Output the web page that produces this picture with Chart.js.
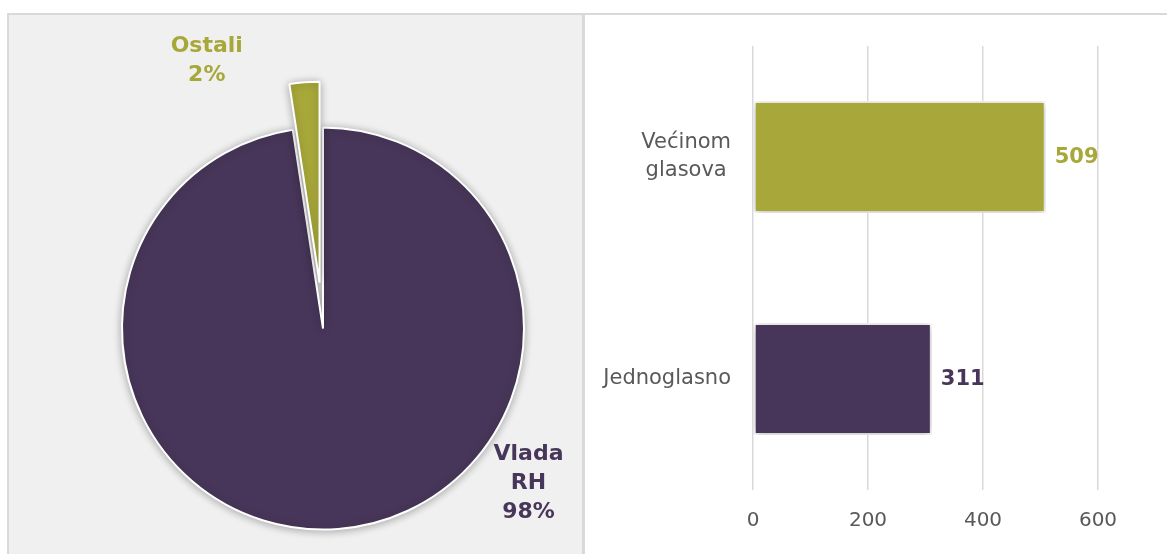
<!DOCTYPE html>
<html>
<head>
<meta charset="utf-8">
<script src="https://cdn.jsdelivr.net/npm/chart.js@4"></script>
<style>
  html, body { margin: 0; padding: 0; background: #fff; width: 1167px; height: 554px; overflow: hidden; position: relative; }
  #left { position: absolute; left: 7px; top: 13px; width: 573px; height: 560px; background: #f0f0f0;
          border-left: 2px solid #d9d9d9; border-top: 2px solid #d9d9d9; border-right: 3px solid #d9d9d9; }
  #right { position: absolute; left: 585px; top: 13px; width: 600px; height: 560px; border-top: 2px solid #d9d9d9; }
  canvas { position: absolute; }
  #pie { left: 9px; top: 15px; }
  #bar { left: 585px; top: 15px; }
</style>
</head>
<body>
<div id="left"></div>
<div id="right"></div>
<canvas id="pie" width="573" height="539"></canvas>
<canvas id="bar" width="582" height="539"></canvas>
<script>
// pie: who proposed (shares in %)
const pieLabels = ['Vlada RH', 'Ostali'];
const pieValues = [97.6, 2.4];

// bars: how it was voted
const barCategories = [['Većinom', 'glasova'], 'Jednoglasno'];
const barValues = [509, 311];
const xTicks = [0, 200, 400, 600];

const purple = '#473659';
const green = '#a8a83a';
const grey = '#595959';
const font = '"DejaVu Sans", sans-serif';

const shadow = {
    id: 'shadow',
    beforeDatasetsDraw(chart) {
        const c = chart.ctx;
        c.save();
        c.shadowColor = 'rgba(0,0,0,0.3)';
        c.shadowBlur = 8;
        c.shadowOffsetX = 0;
        c.shadowOffsetY = 1;
    },
    afterDatasetsDraw(chart) {
        chart.ctx.restore();
    }
};

// pulled-out slices (pixels along the slice's middle)
const explode = [0, 46];

const explodePie = {
    id: 'explodePie',
    beforeDatasetDraw(chart, args) {
        const c = chart.ctx;
        args.meta.data.forEach((arc, i) => {
            const mid = (arc.startAngle + arc.endAngle) / 2;
            c.save();
            c.translate(Math.cos(mid) * explode[i], Math.sin(mid) * explode[i]);
            arc.draw(c, chart.chartArea);
            c.restore();
        });
        return false;
    }
};

// label spots round the pie: angle from top (clockwise, deg) and distance in radii
const pieLabelSpots = [[127, 1.28], [-23.5, 1.45]];

const pieText = {
    id: 'pieText',
    afterDraw(chart) {
        const c = chart.ctx;
        const arcs = chart.getDatasetMeta(0).data;
        const total = pieValues.reduce((a, b) => a + b, 0);
        c.save();
        c.font = 'bold 22px ' + font;
        c.textAlign = 'center';
        c.textBaseline = 'middle';
        arcs.forEach((arc, i) => {
            const lines = pieLabels[i].split(' ').concat(Math.round(pieValues[i] / total * 100) + '%');
            const a = pieLabelSpots[i][0] * Math.PI / 180;
            const d = pieLabelSpots[i][1] * arc.outerRadius;
            const x = arc.x + Math.sin(a) * d;
            const y = arc.y - Math.cos(a) * d;
            const lh = 29;
            c.fillStyle = arc.options.backgroundColor;
            lines.forEach((t, j) => {
                c.fillText(t, x, y + (j - (lines.length - 1) / 2) * lh);
            });
        });
        c.restore();
    }
};

new Chart(document.getElementById('pie'), {
    type: 'pie',
    data: {
        labels: pieLabels,
        datasets: [{
            data: pieValues,
            backgroundColor: [purple, green],
            borderColor: '#ffffff',
            borderWidth: 2,
            radius: 201
        }]
    },
    options: {
        responsive: false,
        animation: false,
        layout: { padding: { left: 55, top: 88, right: 0, bottom: 0 } },
        plugins: { legend: { display: false }, tooltip: { enabled: false } }
    },
    plugins: [shadow, explodePie, pieText]
});

const barText = {
    id: 'barText',
    afterDraw(chart) {
        const c = chart.ctx;
        const bars = chart.getDatasetMeta(0).data;
        c.save();
        c.font = 'bold 21px ' + font;
        c.textAlign = 'left';
        c.textBaseline = 'middle';
        bars.forEach((bar, i) => {
            c.fillStyle = bar.options.backgroundColor;
            c.fillText(String(barValues[i]), bar.x + 9, bar.y + 1);
        });
        // category labels, each line centred in a block that sits right against the axis
        const ys = chart.scales.y;
        c.font = '21px ' + font;
        c.fillStyle = grey;
        c.textAlign = 'center';
        barCategories.forEach((cat, i) => {
            const lines = Array.isArray(cat) ? cat : [cat];
            const w = Math.max(...lines.map(t => c.measureText(t).width));
            const cx = chart.chartArea.left - 22 - w / 2;
            const cy = ys.getPixelForTick(i);
            lines.forEach((t, j) => {
                c.fillText(t, cx, cy + (j - (lines.length - 1) / 2) * 28);
            });
        });
        c.restore();
    }
};

new Chart(document.getElementById('bar'), {
    type: 'bar',
    data: {
        labels: barCategories,
        datasets: [{
            data: barValues,
            backgroundColor: [green, purple],
            borderColor: '#ffffff',
            borderWidth: 2,
            borderSkipped: false,
            categoryPercentage: 1,
            barPercentage: 0.505
        }]
    },
    options: {
        indexAxis: 'y',
        responsive: false,
        animation: false,
        layout: { padding: { left: 0, right: 69, top: 31, bottom: 0 } },
        scales: {
            x: {
                min: 0,
                max: xTicks[xTicks.length - 1],
                afterBuildTicks(s) { s.ticks = xTicks.map(v => ({ value: v })); },
                afterFit(s) { s.height = 64; },
                border: { display: false },
                grid: { color: '#d9d9d9', lineWidth: 1.5, drawTicks: false },
                ticks: { padding: 19, color: grey, font: { family: font, size: 20 } }
            },
            y: {
                afterFit(s) { s.width = 168; },
                border: { display: false },
                grid: { display: false },
                ticks: { display: false }
            }
        },
        plugins: { legend: { display: false }, tooltip: { enabled: false } }
    },
    plugins: [shadow, barText]
});
</script>
</body>
</html>
